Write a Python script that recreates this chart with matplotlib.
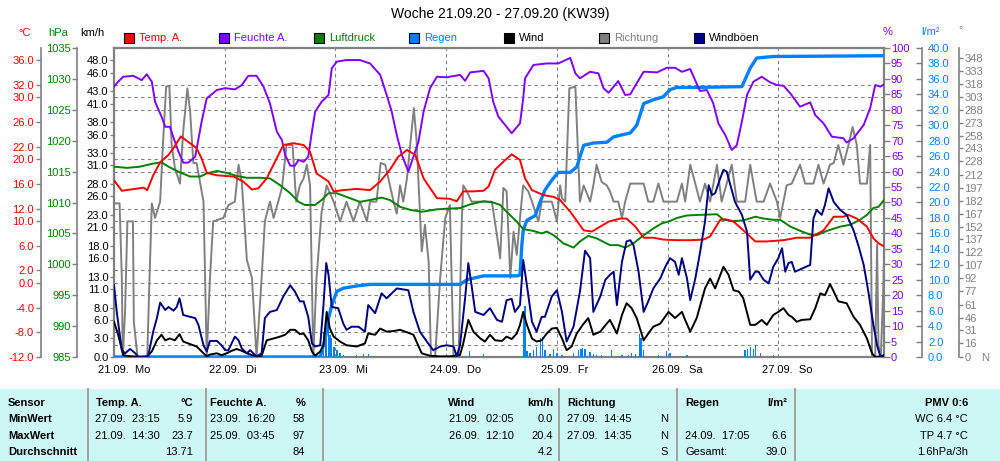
import matplotlib
matplotlib.use("Agg")
import matplotlib.pyplot as plt
from matplotlib.patches import Rectangle
from matplotlib.lines import Line2D
from matplotlib.ticker import MultipleLocator
from matplotlib import transforms

plt.rcParams["font.family"] = ["Liberation Sans", "DejaVu Sans"]
plt.rcParams["font.size"] = 8

# ---- data (hours since 21.09. 00:00) ----
temp_h = [0, 1.7, 6.4, 7.2, 8.5, 10.0, 11.8, 12.9, 14.5, 16.1, 17.9, 19.0, 20.1, 22.3, 25.9, 28.0, 29.9, 31.3, 33.1, 34.9,
          36.7, 38.9, 41.1, 42.5, 43.9, 46.5, 47.6, 49.7, 52.6, 55.5, 57.7, 59.8, 61.6, 63.5, 65.3, 67.1, 70.0, 72.8, 74.3, 75.7,
          77.9, 80.1, 81.2, 82.6, 84.4, 86.2, 88.0, 89.1, 90.6, 93.1, 95.3, 96.7, 98.9, 101.8, 103.6, 105.4, 107.2, 109.7, 111.1, 113.0,
          114.8, 116.9, 119.1, 122.0, 124.9, 127.8, 129.2, 131.4, 132.5, 134.3, 136.4, 139.0, 141.5, 145.1, 148.0, 150.9, 153.8, 156.0, 158.1, 159.2,
          161.0, 163.2, 164.6, 165.7, 166.9]
temp = [16.6, 14.9, 15.4, 15.0, 17.4, 19.5, 20.7, 21.8, 23.7, 22.8, 21.8, 20.1, 17.8, 17.4, 17.2, 16.4, 15.1, 15.3, 16.9, 19.6,
        22.3, 22.6, 22.3, 21.2, 17.7, 16.4, 14.8, 15.0, 15.2, 15.0, 16.4, 18.3, 20.4, 21.5, 20.7, 16.9, 13.7, 13.6, 13.2, 14.8,
        14.8, 14.9, 15.6, 18.3, 19.6, 20.8, 19.9, 16.9, 15.0, 14.2, 13.9, 13.4, 11.5, 8.5, 8.3, 9.1, 9.9, 10.4, 10.4, 9.1,
        7.3, 7.3, 7.0, 6.9, 6.9, 7.0, 7.5, 10.2, 10.3, 9.9, 8.5, 6.7, 6.7, 6.9, 7.3, 7.3, 8.5, 10.7, 10.7, 11.0,
        10.4, 9.1, 7.2, 6.4, 5.9]

hum_h = [0, 0.9, 2.0, 4.2, 6.0, 7.1, 8.2, 8.9, 10.3, 11.1, 12.1, 13.2, 14.0, 15.0, 16.1, 17.6, 19.0, 20.1, 22.3, 24.1,
         26.2, 27.7, 29.1, 30.9, 32.4, 33.8, 35.3, 36.4, 37.1, 38.2, 39.2, 40.0, 41.1, 42.1, 42.9, 43.6, 45.0, 46.5, 47.2, 48.3, 50.4,
         53.3, 55.5, 57.7, 59.1, 60.2, 61.3, 62.4, 63.8, 64.9, 66.0, 67.1, 68.5, 70.0, 72.1, 75.0, 76.1, 77.2, 80.1, 81.2, 82.2,
         83.3, 85.1, 86.2, 88.0, 88.7, 89.1, 90.9, 93.8, 96.3, 98.9, 100.0, 101.0, 103.2, 105.0, 106.1, 107.2,
         109.3, 110.8, 111.9, 113.3, 114.8, 115.5, 117.7, 119.8, 121.6, 123.1, 124.9, 127.0, 128.5, 129.9, 131.0, 132.5, 133.9, 135.0, 136.1, 137.2,
         138.6, 140.4, 142.2, 143.7, 145.1, 146.6, 148.7, 150.9, 152.0, 153.8, 155.6, 158.1, 158.8, 160.3, 162.5, 163.9, 165.0, 166.1, 166.9]
hum = [87.5, 89.1, 90.7, 91.0, 89.6, 91.5, 89.1, 82.6, 77.8, 74.5, 74.5, 69.7, 66.4, 62.9, 62.9, 64.8, 76.2, 83.7, 86.4, 87.0,
       86.6, 88.0, 91.0, 91.0, 87.5, 82.1, 72.9, 70.2, 65.4, 61.9, 61.9, 63.8, 63.2, 64.8, 72.9, 79.4, 82.6, 84.8, 93.4, 95.6, 96.1,
       96.1, 95.0, 91.3, 84.8, 79.4, 71.8, 65.4, 60.0, 64.8, 69.7, 79.4, 87.0, 90.7, 90.5, 91.3, 89.4, 92.1, 92.6, 90.2, 82.6,
       77.8, 74.5, 72.4, 75.6, 83.7, 90.2, 94.5, 95.0, 95.0, 96.8, 91.8, 90.2, 92.3, 91.8, 87.0, 85.5,
       89.3, 84.8, 85.0, 88.6, 92.3, 92.3, 92.1, 93.6, 93.6, 92.3, 93.2, 86.1, 86.4, 82.1, 75.6, 71.8, 67.0, 68.6, 76.2, 84.8,
       89.1, 90.7, 88.9, 88.0, 87.8, 85.3, 81.0, 82.4, 78.3, 75.6, 71.3, 70.8, 69.4, 70.8, 75.1, 80.5, 88.0, 87.5, 88.2]

press_h = [0, 2.8, 5.6, 8.5, 10.3, 11.8, 13.6, 16.5, 18.7, 20.1, 22.3, 24.4, 26.6, 28.8, 31.7, 33.8, 36.0, 38.2, 40.0, 41.4,
           43.6, 45.0, 46.5, 48.3, 49.7, 51.5,
           53.3, 55.5, 58.0, 59.8, 62.0, 64.2, 66.7, 70.0, 75.0, 77.2, 80.1, 82.2, 83.7, 85.1, 87.3, 88.7, 90.9, 92.7, 93.8, 95.3,
           97.4, 99.6, 101.0, 102.8, 104.6,
           107.5, 109.3, 110.8, 112.6, 114.8, 116.9, 118.7, 120.5, 122.0, 124.2, 127.0, 130.7, 132.1, 134.3, 136.4, 139.0, 140.8, 142.9, 144.4, 146.6,
           149.1, 150.9, 152.3, 154.5, 157.4, 159.6, 161.7, 163.2, 164.6, 165.7, 166.9]
press = [1015.8, 1015.6, 1015.8, 1016.3, 1016.5, 1015.8, 1015.1, 1014.2, 1014.2, 1014.7, 1015.1, 1014.8, 1014.3, 1014.0, 1014.0, 1013.9,
         1012.8, 1011.5, 1010.1, 1009.6, 1009.6, 1010.4, 1011.5, 1011.5, 1011.1, 1010.6,
         1010.1, 1010.4, 1010.8, 1010.4, 1009.3, 1008.8, 1008.5, 1008.9, 1009.1, 1009.7, 1010.2, 1010.0, 1009.6, 1008.5, 1006.9, 1005.7,
         1005.4, 1005.0, 1005.3, 1004.7, 1003.4, 1002.7, 1003.7, 1004.6, 1004.2,
         1003.1, 1003.1, 1002.7, 1003.4, 1004.7, 1005.8, 1006.6, 1007.0, 1007.5, 1007.9, 1008.0, 1008.1, 1007.2, 1007.0, 1007.1, 1007.7,
         1007.4, 1007.2, 1007.2, 1006.1, 1005.3, 1004.8, 1004.7, 1005.4, 1006.1, 1006.4, 1007.2, 1008.0, 1009.1, 1009.3, 1010.4]

rain_h = [0, 44.7, 45.8, 46.5, 47.2, 48.3, 49.7, 52.6, 55.5, 60.6, 75.0, 76.5, 77.9, 80.1, 87.3, 88.0, 88.4, 88.7, 89.5, 91.3,
          92.4, 93.4, 94.9, 96.3, 98.9, 100.3, 101.8, 103.9, 106.8, 108.3, 109.7, 111.9, 113.3, 114.8, 116.9, 119.1, 120.5, 122.0,
          126.3, 136.1, 137.9, 139.3, 142.9, 166.9]
rain_sum = [0, 0, 2.4, 5.0, 6.7, 8.5, 8.9, 9.2, 9.4, 9.4, 9.4, 10.0, 10.2, 10.5, 10.5, 10.6, 14.5, 16.4, 17.7, 18.3,
            20.1, 21.6, 22.9, 23.9, 23.9, 24.6, 27.4, 27.7, 27.8, 28.5, 28.7, 29.0, 30.0, 32.8, 33.3, 33.7, 34.6, 34.9,
            34.9, 35.0, 37.4, 38.7, 38.9, 39.0]

rain_bar_h = [44.9, 45.4, 45.8, 46.1, 46.5, 46.8, 47.2, 47.7, 48.3, 49.0, 49.7, 52.6, 54.1, 55.1, 77.0, 80.1, 88.8, 89.1, 89.5, 90.2,
              90.9, 91.6, 92.4, 92.9, 93.4, 94.5, 95.3, 96.0, 97.1, 99.6, 100.7, 101.2, 101.6, 102.1, 103.2, 103.9, 104.6, 105.7, 107.9, 110.1,
              111.5, 112.2, 113.0, 113.9, 114.2, 114.8, 118.0, 119.8, 120.5, 124.2, 136.8, 137.3, 137.9, 138.6, 139.1, 140.1, 142.9]
rain_bar = [0.7, 3.3, 4.2, 5.9, 4.4, 2.9, 2.4, 1.3, 0.9, 0.5, 0.3, 0.3, 0.4, 0.4, 0.8, 0.4, 6.0, 6.6, 0.8, 0.5,
            0.9, 1.3, 2.4, 2.6, 0.9, 0.4, 1.0, 0.5, 0.3, 0.5, 0.9, 1.1, 1.2, 1.1, 0.7, 0.4, 0.3, 0.3, 0.9, 0.3,
            0.3, 0.5, 0.4, 3.0, 2.4, 0.9, 0.3, 0.8, 0.5, 0.3, 0.9, 1.0, 1.3, 1.1, 1.6, 0.5, 0.3]

wind_h = [0, 0.9, 2.0, 3.5, 4.9, 7.1, 8.2, 9.3, 10.3, 11.1, 12.1, 13.2, 14.2, 15.0, 16.1, 17.9, 19.4, 20.1, 20.8, 22.3,
          23.3, 24.4, 25.5, 26.6, 27.7, 28.8, 29.9, 30.9, 32.0, 33.1, 34.6, 36.0, 37.1, 38.2, 39.2, 40.3, 41.1, 42.1, 42.9, 43.6,
          44.7, 45.4, 46.1, 46.8, 47.6, 49.0, 50.4, 52.6,
          54.4, 55.1, 56.6, 57.7, 59.1, 60.6, 62.0, 63.5, 64.9, 66.7, 68.5, 70.7, 72.8, 75.0, 75.7, 76.8, 77.9, 79.4, 80.4, 81.5,
          82.6, 84.1, 85.1, 86.2, 87.3, 88.0, 88.7, 89.5, 90.6, 91.6, 92.7, 93.8, 94.9, 96.0, 97.1, 98.1, 99.2, 100.3, 101.8, 102.8,
          103.9, 105.4, 106.8,
          107.5, 109.0, 110.1, 111.1, 112.2, 113.3, 114.8, 115.8, 116.9, 118.4, 120.2, 121.6, 123.1, 123.8, 124.9, 126.3, 128.1, 129.2, 130.3, 132.1,
          133.2, 134.3, 135.4, 136.4, 137.9, 139.0, 140.4, 141.5, 142.9, 144.0, 145.1, 146.2, 146.9, 148.0, 149.1, 150.9, 152.0, 153.1, 154.1, 155.2,
          156.0, 157.0, 158.8, 160.3, 161.7, 163.2, 164.3, 165.0, 166.1, 166.9]
wind = [5.7, 3.6, 0.3, 0.1, 0, 0, 0.9, 2.7, 3.6, 2.7, 3.0, 2.7, 3.7, 2.5, 2.2, 1.7, 0.6, 0.1, 0.4, 0.6,
        0.3, 0.6, 1.0, 1.3, 1.0, 0.6, 0.3, 0.1, 0.2, 2.7, 3.0, 3.3, 3.6, 4.4, 4.4, 3.7, 3.8, 2.7, 0.9, 0.2,
        0.9, 1.9, 7.3, 4.6, 3.3, 2.5, 1.9, 1.7,
        2.2, 3.8, 3.6, 4.6, 4.1, 4.2, 4.4, 4.0, 3.6, 0.6, 0.2, 0.1, 0.1, 0.3, 2.2, 6.0, 4.1, 3.0, 2.5, 3.6,
        2.7, 2.6, 3.3, 2.9, 3.8, 5.2, 7.3, 5.2, 3.0, 2.5, 2.7, 3.8, 4.6, 4.7, 3.0, 1.1, 1.7, 3.8, 5.4, 6.3,
        3.6, 4.1, 5.4,
        6.0, 3.8, 6.8, 8.7, 7.9, 6.3, 2.7, 3.8, 4.9, 5.4, 7.3, 6.3, 7.3, 6.0, 4.1, 6.3, 11.1, 12.7, 11.1, 14.6,
        13.3, 10.8, 10.6, 9.5, 5.2, 5.2, 6.0, 5.2, 6.8, 7.3, 7.9, 6.8, 6.5, 5.7, 6.0, 6.1, 7.9, 10.3, 10.0, 11.8,
        10.6, 9.0, 8.7, 6.5, 5.2, 3.0, 0.6, 0, 0.1, 0.1]

gust_h = [0, 0.6, 1.7, 2.4, 3.5, 4.6, 5.3, 7.4, 8.5, 9.3, 10.0, 11.1, 11.8, 12.9, 13.6, 14.2, 15.0, 16.5, 17.6, 18.3,
          19.4, 20.1, 20.8, 22.3, 23.3, 24.1, 24.8, 25.5, 26.2, 27.0, 27.7, 28.8, 29.5, 30.2, 30.9, 32.0, 32.7, 33.8, 35.3, 36.7,
          38.2, 39.2, 40.3, 41.1, 42.1, 42.9, 43.6, 44.7, 45.4, 46.0, 46.5, 47.2, 48.6, 49.7, 50.4, 51.5, 53.0,
          54.4, 55.1, 56.6, 58.0, 59.1, 61.3, 63.8, 64.9, 66.3, 67.8, 69.2, 70.7, 72.1, 73.6, 74.3, 75.0, 76.1, 76.8, 77.5, 78.3,
          80.1, 81.5, 83.0, 84.1, 85.1, 86.2, 86.9, 88.0, 88.7, 89.5, 90.6, 91.6, 92.7, 93.4, 94.9, 96.0, 97.1, 98.1, 99.6, 101.0,
          102.1, 103.2, 103.9, 105.4, 106.5,
          107.5, 108.3, 109.0, 110.1, 111.1, 111.9, 112.6, 113.7, 114.8, 115.8, 116.9, 118.4, 119.5, 120.5, 121.6, 122.4, 123.1, 124.2, 124.9, 126.0,
          127.0, 128.1, 128.9, 129.6, 130.3, 131.4, 132.1, 132.8, 133.6, 134.6, 136.1, 137.2, 137.9, 139.0, 139.7, 140.8, 141.9, 142.9, 144.0, 144.8,
          145.5, 146.2, 146.9, 147.6, 149.1, 150.9, 151.6, 152.3, 153.4, 154.1, 154.9, 156.0, 157.4, 158.8, 160.3, 161.4, 162.5, 163.5, 164.6, 165.4,
          166.1, 166.9]
gust = [11.6, 7.3, 1.1, 0.6, 1.3, 0.6, 0, 0.1, 4.1, 6.3, 8.8, 7.6, 8.1, 7.5, 8.1, 9.5, 6.8, 6.5, 6.3, 5.2,
        1.9, 0.9, 2.6, 2.6, 1.9, 1.1, 1.1, 2.2, 3.3, 2.7, 1.4, 0.6, 1.1, 0.6, 0.1, 0.6, 6.3, 7.3, 7.6, 9.8,
        11.6, 10.6, 9.0, 9.0, 6.5, 2.2, 1.7, 1.9, 8.4, 15.2, 13.3, 8.1, 7.9, 5.4, 4.4, 4.9, 4.9,
        4.1, 8.4, 7.1, 10.3, 9.5, 11.1, 10.8, 7.3, 4.1, 2.5, 1.1, 1.7, 1.9, 1.7, 0.1, 1.9, 9.5, 15.2, 11.6, 7.3,
        6.8, 7.9, 6.0, 5.7, 9.2, 9.4, 7.3, 8.4, 15.7, 11.6, 5.7, 4.1, 6.5, 6.5, 9.8, 10.8, 7.3, 2.5, 4.9, 10.6,
        17.2, 16.0, 7.3, 9.8, 12.5,
        13.3, 13.8, 8.4, 15.4, 18.7, 18.9, 18.1, 13.8, 7.3, 9.0, 11.1, 12.7, 14.6, 16.0, 15.4, 13.3, 16.0, 12.7, 9.2, 12.7,
        16.8, 21.9, 27.8, 26.2, 26.5, 28.9, 30.3, 30.0, 27.8, 25.1, 23.0, 20.3, 12.5, 13.8, 13.8, 12.5, 11.9, 14.6, 16.0, 17.6,
        13.8, 15.2, 15.4, 13.8, 14.3, 14.9, 22.4, 23.8, 23.0, 24.6, 27.3, 25.1, 23.8, 23.0, 20.5, 17.9, 14.9, 10.6, 5.2, 1.9,
        0.1, 0.3]

dir_h = [0, 1.2, 1.7, 1.9, 2.4, 2.9, 4.1, 4.3, 5.1, 6.4, 7.2, 7.7, 8.2, 8.9, 10.0, 10.6, 11.3, 12.0, 12.5, 13.2,
         14.3, 15.0, 15.9, 16.5, 17.2, 17.9, 19.4, 20.1, 20.8, 21.5, 23.7, 24.8, 26.2, 27.0, 27.7, 28.8, 29.9, 30.9, 32.0, 32.7,
         33.8, 34.6, 35.6, 36.4, 37.4, 38.7, 39.5, 40.3, 41.1, 41.8, 42.5, 43.2, 43.9, 45.0, 46.1, 47.6, 49.0, 50.4, 51.9, 53.3,
         54.8, 55.5,
         56.9, 57.8, 58.8, 59.8, 60.6, 61.3, 62.0, 62.7, 63.5, 64.2, 65.0, 65.6, 66.2, 66.7, 67.4, 68.2, 68.7, 69.6, 70.7, 71.8,
         72.8, 73.6, 74.7, 75.4, 75.7, 76.5, 77.5, 79.0, 80.4, 81.9, 83.0, 83.7, 84.4, 85.1, 85.9, 86.6, 87.3, 88.0, 88.7, 89.8,
         90.6, 91.3, 92.0, 92.7, 93.8, 94.9, 96.0, 96.7, 97.1, 97.8, 98.7, 100.0, 101.0, 101.8, 103.2, 103.9, 104.6, 105.7, 106.8,
         107.5, 108.3, 109.3, 110.1, 110.8, 111.9, 114.8, 115.8, 116.9, 118.0, 119.1, 122.0, 123.1, 123.8, 124.9, 126.0, 127.0, 128.1, 129.2, 130.7,
         131.7, 132.8, 133.9, 135.0, 136.8, 137.9, 139.3, 140.8, 142.2, 143.7, 144.4, 145.8, 146.9, 148.7, 149.8, 151.6, 152.7, 153.8, 155.2, 156.0,
         157.0, 158.1, 159.2, 160.1, 161.0, 161.7, 163.2, 163.9, 164.3, 165.0, 165.4, 165.7, 166.2, 166.7, 166.9]
direction = [179, 179, 92, 0, 53, 158, 158, 41, 0, 0, 0, 92, 179, 162, 181, 247, 315, 316, 247, 220,
             202, 263, 313, 286, 226, 226, 181, 0, 92, 158, 162, 177, 181, 224, 204, 113, 92, 0, 92, 158,
             181, 162, 181, 197, 247, 247, 181, 200, 208, 224, 200, 0, 92, 169, 200, 181, 158, 181, 158, 181,
             158, 181,
             181, 226, 224, 200, 181, 167, 200, 181, 208, 247, 290, 251, 181, 123, 154, 111, 0, 0, 92, 162,
             177, 0, 0, 162, 200, 193, 181, 181, 181, 181, 142, 115, 197, 193, 92, 146, 119, 162, 200, 193,
             181, 169, 158, 181, 181, 181, 158, 200, 185, 181, 313, 315, 181, 200, 181, 200, 224, 204, 200,
             193, 181, 181, 162, 181, 202, 202, 181, 181, 202, 181, 181, 202, 181, 224, 202, 181, 202, 181, 224,
             181, 202, 224, 181, 181, 224, 181, 181, 202, 181, 162, 200, 202, 224, 202, 202, 224, 202, 224, 226,
             247, 224, 247, 268, 247, 202, 202, 247, 0, 0, 131, 14, 0, 72, 111]

# axis ticks / labels
kmh_ticks = [0, 3, 6, 8, 11, 13, 16, 18, 21, 23, 26, 28, 31, 33, 36, 38, 41, 43, 46, 48]
temp_ticks = [-12, -8, -4, 0, 2, 6, 10, 12, 16, 20, 22, 26, 30, 32, 36]
hpa_ticks = [985, 990, 995, 1000, 1005, 1010, 1015, 1020, 1025, 1030, 1035]
hum_ticks = list(range(0, 101, 5))
rain_ticks = [i * 2 for i in range(21)]
dir_ticks = [0, 16, 31, 46, 61, 77, 92, 107, 122, 137, 152, 167, 182, 197, 212, 228, 243, 258, 273, 288, 303, 318, 333, 348]
day_labels = ["21.09.  Mo", "22.09.  Di", "23.09.  Mi", "24.09.  Do", "25.09.  Fr", "26.09.  Sa", "27.09.  So"]

legend_names = ["Temp. A.", "Feuchte A.", "Luftdruck", "Regen", "Wind", "Richtung", "Windböen"]

# summary table: (x, y, text, align, bold)
table_cells = [
    (8, 403, "Sensor", "left", True), (8, 419, "MinWert", "left", True),
    (8, 436, "MaxWert", "left", True), (8, 452, "Durchschnitt", "left", True),
    (96, 403, "Temp. A.", "left", True), (193, 403, "°C", "right", True),
    (95, 419, "27.09.  23:15", "left", False), (193, 419, "5.9", "right", False),
    (95, 436, "21.09.  14:30", "left", False), (193, 436, "23.7", "right", False),
    (193, 452, "13.71", "right", False),
    (210, 403, "Feuchte A.", "left", True), (305, 403, "%", "right", True),
    (210, 419, "23.09.  16:20", "left", False), (305, 419, "58", "right", False),
    (210, 436, "25.09.  03:45", "left", False), (305, 436, "97", "right", False),
    (305, 452, "84", "right", False),
    (448, 403, "Wind", "left", True), (553, 403, "km/h", "right", True),
    (449, 419, "21.09.  02:05", "left", False), (553, 419, "0.0", "right", False),
    (449, 436, "26.09.  12:10", "left", False), (553, 436, "20.4", "right", False),
    (553, 452, "4.2", "right", False),
    (567, 403, "Richtung", "left", True),
    (567, 419, "27.09.  14:45", "left", False), (668, 419, "N", "right", False),
    (567, 436, "27.09.  14:35", "left", False), (668, 436, "N", "right", False),
    (668, 452, "S", "right", False),
    (685, 403, "Regen", "left", True), (787, 403, "l/m²", "right", True),
    (685, 436, "24.09.  17:05", "left", False), (787, 436, "6.6", "right", False),
    (685, 452, "Gesamt:", "left", False), (787, 452, "39.0", "right", False),
    (968, 403, "PMV 0:6", "right", True), (968, 419, "WC 6.4 °C", "right", False),
    (968, 436, "TP 4.7 °C", "right", False), (968, 452, "1.6hPa/3h", "right", False),
]
table_lines = [88, 206, 323, 559, 677, 795]

RED = "#ff0000"
PURPLE = "#8000ff"
GREEN = "#008000"
BLUE = "#0080ff"
GRAY = "#808080"
NAVY = "#000080"
BG = "#cdf7f5"


def fx(px):
    return px / 1000


def fy(py):
    return 1 - py / 461


fig = plt.figure(figsize=(10, 4.61), dpi=100)
fig.patch.set_facecolor("white")
ax = fig.add_axes([fx(114), fy(357), fx(884) - fx(114), fy(48) - fy(357)])
ax.set_xlim(0, 166.9)
ax.set_ylim(0, 50)
ax.set_xticks([24 * i for i in range(7)])
ax.tick_params(axis="x", length=0, labelbottom=False)
ax.set_yticks(kmh_ticks)
ax.set_yticklabels([f"{v:.1f}" for v in kmh_ticks])
ax.yaxis.set_minor_locator(MultipleLocator(2))
ax.tick_params(axis="y", which="major", color=GRAY, labelcolor="black", length=3, width=1, pad=1)
ax.tick_params(axis="y", which="minor", length=0)
ax.yaxis.grid(True, which="minor", color=GRAY, ls=(0, (3, 3)), lw=0.8)
ax.xaxis.grid(True, which="major", color=GRAY, ls=(0, (3, 3)), lw=0.8)
for s in ax.spines.values():
    s.set_color(GRAY)
    s.set_linewidth(1.6)

day_trans = transforms.offset_copy(ax.get_xaxis_transform(), fig=fig, x=-16, y=-13, units="dots")
for i, lab in enumerate(day_labels):
    ax.text(24 * i, 0, lab, transform=day_trans, ha="left", va="center")


def side_axis(side, offset_px, lim, ticks, labels, color, direction="out", length=3.5, pad=1.0, show_spine=True):
    t = ax.twinx()
    for s in t.spines.values():
        s.set_visible(False)
    if side == "left":
        t.yaxis.tick_left()
    sp = t.spines[side]
    sp.set_visible(show_spine)
    sp.set_position(("outward", offset_px * 0.72))
    sp.set_color(GRAY)
    sp.set_linewidth(1.2)
    t.set_yticks(ticks)
    t.set_yticklabels(labels)
    t.set_ylim(lim)
    t.tick_params(axis="y", color=GRAY, labelcolor=color, direction=direction, length=length, width=1, pad=pad)
    return t


ax_t = side_axis("left", 73, (-12, 38), temp_ticks, [f"{v:.1f}" for v in temp_ticks], RED, pad=1.5)
ax_p = side_axis("left", 37, (985, 1035), hpa_ticks, [str(v) for v in hpa_ticks], GREEN)
ax_h = side_axis("right", 0, (0, 100), hum_ticks, [str(v) for v in hum_ticks], PURPLE, length=4, show_spine=False)
ax_r = side_axis("right", 38, (0, 40), rain_ticks, [f"{v:.1f}" for v in rain_ticks], BLUE, direction="in", length=4, pad=4.3)
ax_d = side_axis("right", 75, (0, 360), dir_ticks, [str(v) for v in dir_ticks], GRAY, length=3, pad=1)
ax_w = ax.twinx()
ax_w.set_ylim(0, 50)
ax_w.set_yticks([])
for s in ax_w.spines.values():
    s.set_visible(False)

ax_d.set_zorder(1)
ax_r.set_zorder(2)
ax_p.set_zorder(3)
ax_h.set_zorder(4)
ax_t.set_zorder(5)
ax_w.set_zorder(6)

ax_d.plot(dir_h, direction, color=GRAY, lw=1.4)
ax_r.bar(rain_bar_h, rain_bar, width=0.3, color=BLUE, linewidth=0)
ax_r.plot(rain_h, rain_sum, color=BLUE, lw=2.4)
ax_p.plot(press_h, press, color=GREEN, lw=1.4)
ax_h.plot(hum_h, hum, color=PURPLE, lw=1.4)
ax_t.plot(temp_h, temp, color=RED, lw=1.4)
ax_w.plot(wind_h, wind, color="black", lw=1.4)
ax_w.plot(gust_h, gust, color=NAVY, lw=1.4)

# units above the axes
fig.text(fx(25), fy(33), "°C", color=RED, ha="center", va="center")
fig.text(fx(58), fy(33), "hPa", color=GREEN, ha="center", va="center")
fig.text(fx(92), fy(33), "km/h", color="black", ha="center", va="center")
fig.text(fx(888), fy(32), "%", color=PURPLE, ha="center", va="center")
fig.text(fx(930), fy(32), "l/m²", color=BLUE, ha="center", va="center")
fig.text(fx(961), fy(30), "°", color=GRAY, ha="center", va="center")
fig.text(fx(985), fy(358), "N", color=GRAY, ha="center", va="center")

fig.text(0.5, fy(14), "Woche 21.09.20 - 27.09.20 (KW39)", ha="center", va="center", fontsize=10)

# legend row
sq_colors = [RED, PURPLE, GREEN, BLUE, "black", GRAY, NAVY]
txt_colors = [RED, PURPLE, GREEN, BLUE, "black", GRAY, "black"]
for i, name in enumerate(legend_names):
    x0 = 124 + 95 * i
    fig.patches.append(Rectangle((fx(x0), fy(43)), fx(10), 10 / 461, transform=fig.transFigure,
                                 facecolor=sq_colors[i], edgecolor="black", lw=0.8))
    fig.text(fx(x0 + 15), fy(38), name, color=txt_colors[i], ha="left", va="center")

# summary table
fig.patches.append(Rectangle((0, 0), 1, fy(389), transform=fig.transFigure, facecolor=BG, edgecolor="none"))
for x in table_lines:
    fig.add_artist(Line2D([fx(x), fx(x)], [0, fy(389)], color="#a0a0a0", lw=1.4))
for x, y, s, ha, bold in table_cells:
    fig.text(fx(x), fy(y), s, ha=ha, va="center", fontweight="bold" if bold else "normal")

fig.savefig("out.png", dpi=100)
